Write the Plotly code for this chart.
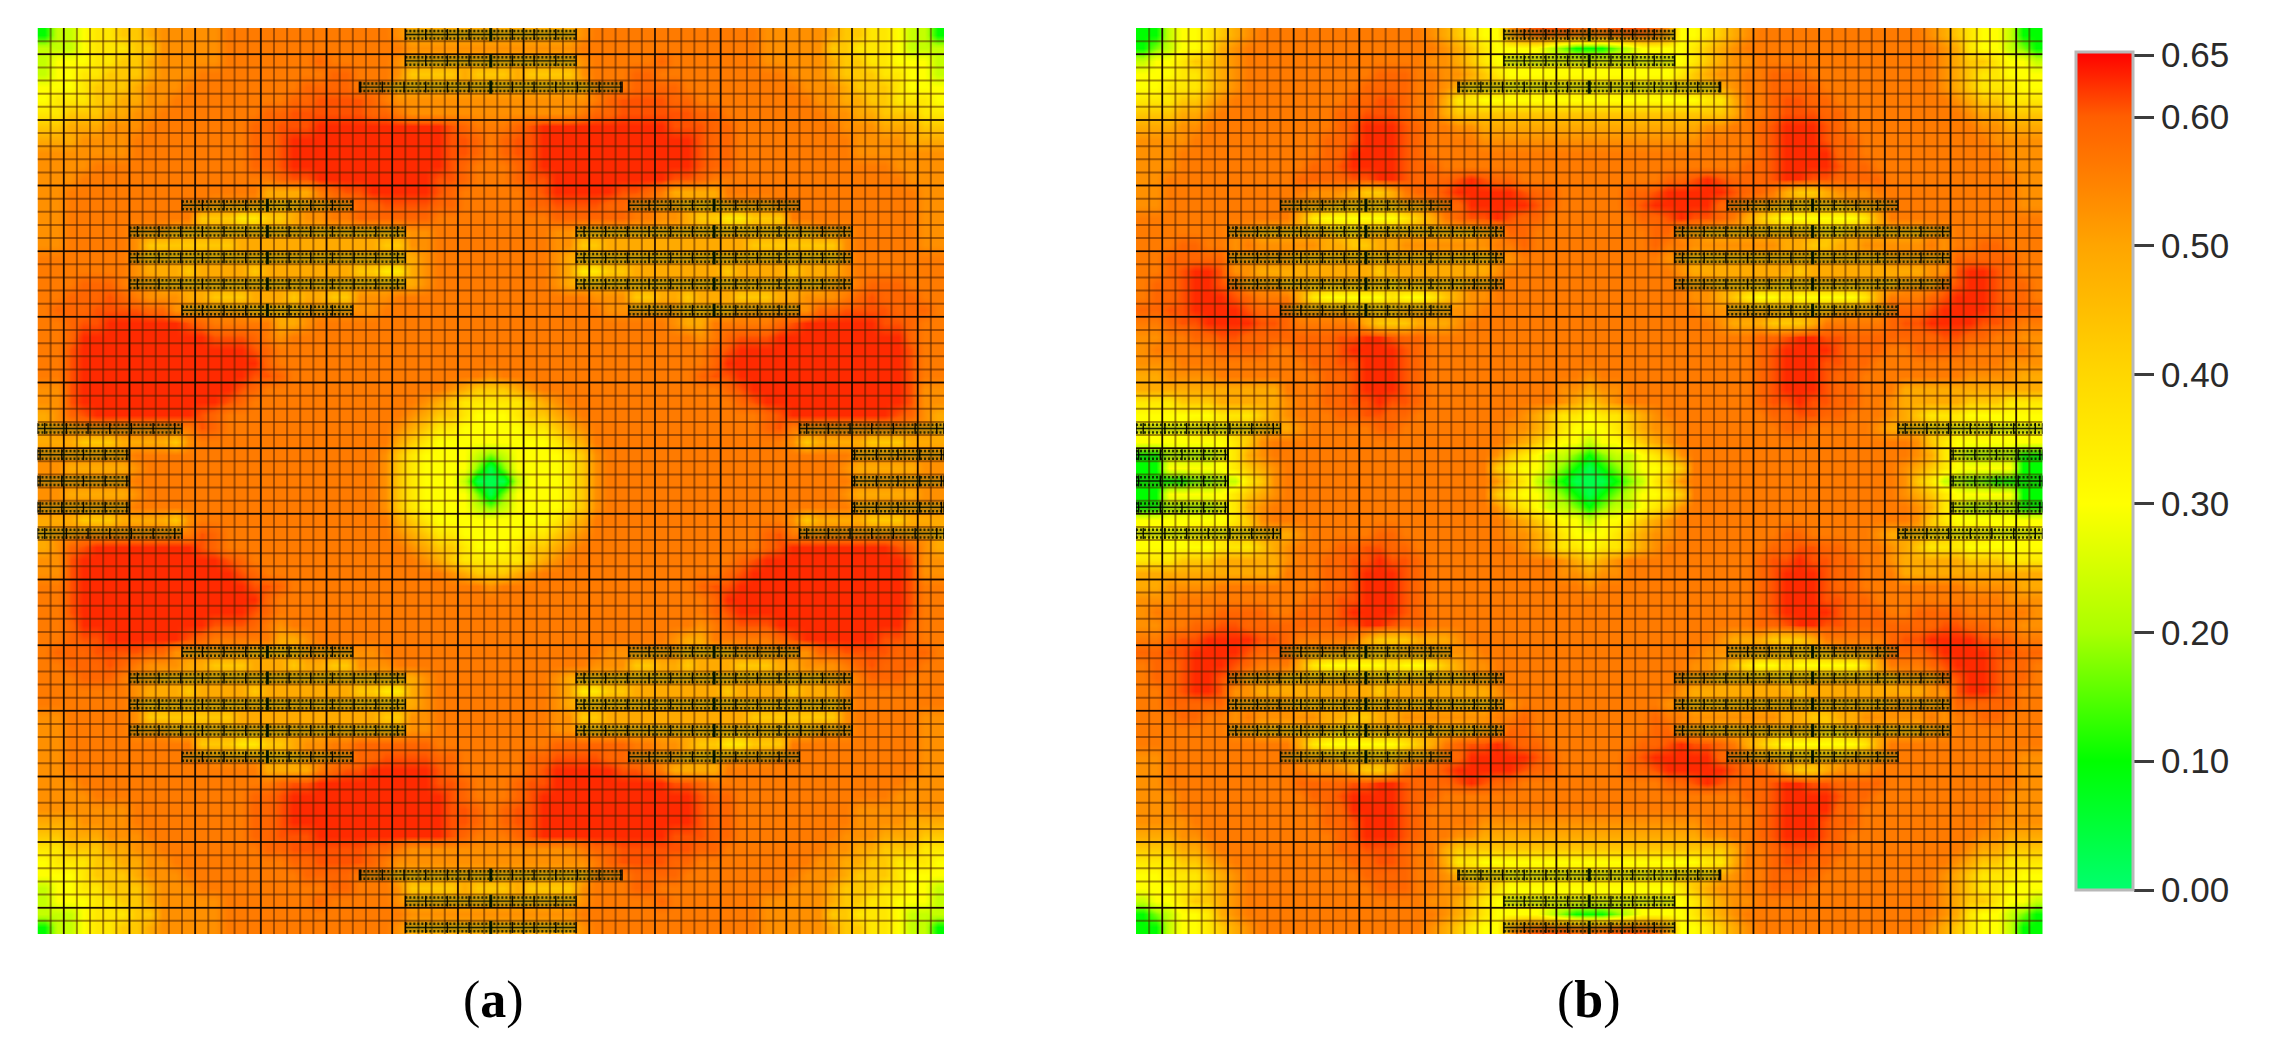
import plotly.graph_objects as go

# value for each colour level seen in a cell
level_values = dict(a=.03, b=.10, c=.17, d=.23, e=.30, f=.36, g=.43, h=.49,
                    i=.53, j=.56, k=.59, l=.607, m=.628)

# upper-left quarter (35 x 35 cells) of panel (a), one text row per grid row
rows_a = [
 "bddeffgghiiiiijjjjjjjjjjjjjihhhhhhh",
 "dddefffggiiiiijjjjjjjjjjjjjjiiiiiii",
 "deeeffgghiiiiijjjjjjjkjjjjjihhhhhhh",
 "deeffggghiiijjjjjjjjjjkkjjjigggghgg",
 "eeefggghiiijjjjjjjjjkkkkjjjhhhhhhhh",
 "efffgghhiijjjjjjjjjkkllllkjiiiiiiii",
 "ffggghhiijjjjjjjjkkllllllkkjiiiiiii",
 "gghhhiiijjjjjjjjkklllmmmmmmmmmmlkjj",
 "hhhiiiijjjjjjjjjkklmmmmmmmmmmmmllkj",
 "iiiiiiijjjjjjjjjkklmmmmmmmmmmmmllkj",
 "iiiijjjjjjjjjjjjkklmmmmmmmmmmmmlkjj",
 "iiijjjjjjjjjjjjjjjkllmmmmmmmmmllkjj",
 "iijjjjjjjjjjjjjjjhhhhjkllmmmmmlkjjj",
 "iijjjjjjjjjjjiiiihhhiijjkkllllkkjjj",
 "iijjjjjjjjjjgggffgghiijjkkkkkkjjjjj",
 "iijjjjjiiihhhhhhhhhhhhhhhhhhiijjjjj",
 "iijjjjjiggggggghhhhhhhhhhhggiijjjjj",
 "jjjjjjjihhhhhhhhhhhhhhhhhhhhhijjjjj",
 "jjjjjjjihhhghhhhghhhhhhhggffhijjjjj",
 "jjjkkkjiihhhhhhhhhhhhhhhhhhhhijjjjj",
 "jjkkklkjiiihhggghhhghhggiiijjjjjjjj",
 "jkkkllllkkiiiiiihhhhiiiiiijjjjjjjjj",
 "jjkllmmmmmmlkjjjjjhhijjjjjjjjjjjjjj",
 "jjkmmmmmmmmmmlllkjijjjjjjjjjjjjjjjj",
 "jjlmmmmmmmmmmmmmlkjjjjjjjjjjjjjjjjj",
 "jjlmmmmmmmmmmmmmmkjjjjjjjjjjjjjjjjj",
 "jjlmmmmmmmmmmmmmllkjjjjjjjjjjjjjjji",
 "iilmmmmmmmmmmmmlk" "jjjjjjjjjjjjjj" "ihgg",
 "iilmmmmmmmmmmmlk" "jjjjjjjjjjjjj" "ihgfff",
 "hiklmmmmmmmmlk" "jjjjjjjjjjjjjj" "ihggfee",
 "hiijjjjjjjjjlk" "jjjjjjjjjjjjj" "ihgffeee",
 "hhhggghhhhgi" "jjjjjjjjjjjjjjj" "hgfeeeee",
 "iiiiiii" "jjjjjjjjjjjjjjjjjjj" "igfeeeedc",
 "iihhhhhi" "jjjjjjjjjjjjjjjjjj" "igfeeeeca",
 "iiiiiii" "jjjjjjjjjjjjjjjjjjj" "igfeeedaa",
]

# upper-left quarter of panel (b)
rows_b = [
 "bbdeefghijjjjjjjjjjjjjihgfeeiklllkk",
 "bcdeefhijjjjjjjjjjjjjjjihgfeeeedcbb",
 "deefgghijjjjjjjjjjjjjjiihgfeeeeeeee",
 "eeeffghijjjjjjjjjjkkkjjiihgfeeeeeee",
 "eefffghijjjjjjjjjkkkkjjihgggfffffff",
 "fffgghijjjjjjjjjkkllkjjhffeeeeeeeee",
 "ggghhijjjjjjjjjkklllkjjhggggggggggg",
 "hhhiijjjjjjjjjjklmmmlkjjiihhhhhhhhh",
 "iiiijjjjjjjjjjkklmmmlkjjjjiiiiiiiii",
 "iiijjjjjjjjjjjkkmmmmlkjjjjjjjjjjjjj",
 "iiijjjjjjjjjjkklmmmmlkkjjjjjjjjjjjj",
 "iijjjjjjjjjjkkkkllmmlkkklmlkkjjjjjj",
 "iijjjjjjjjjjjiiihgghjkklmmmmmlkkjjj",
 "iijjjjjjjjjjiiihhhhhiijkkmmmmmlkjjj",
 "jjjjjjjjjjjjhfeeeeeefghjkllmlkkjjjj",
 "jjjjjjjiihhhhhhgghhhhhhhhhiikkjjjjj",
 "jjjkkjjijiiiiihhgghhiiiiiiijjkjjjjj",
 "jjkkkkkiiiiihhhhhhhhhhhhhhhiijjjjjj",
 "jjklmmliihhhhhhhhhghhhhhhhhijjjjjjj",
 "jkklmmlkiiihhhhhhhhghhhhhiijjjjjjjj",
 "jkklmmmlkjjjhfeeeeefeefghiijjjjjjjj",
 "kkllmmmmlkkkiiiihhhhiiiiiijjjjjjjjj",
 "jjkllmmmmllkjjjjjhggghhhijjjjjjjjjj",
 "iijjkkllkkkkkkkllmmlkkjjjjjjjjjjjjj",
 "ijjjjjkkkkjjkkklmmmmlkjjjjjjjjjjjjj",
 "iiijjjjjjjjjjkkllmmmlkjjjjjjjjjjjjj",
 "hhiiiijjjjjjjjkklmmmlkjjjjjjjjjjjji",
 "hhhhhhhhhhhjjjkklmmmlkjjjjjjjjjjiih",
 "fffggghhhhhijjkkllmllkjjjjjjjjjjihg",
 "eeeeeefffghijjjkkllkkjjjjjjjjihgffe",
 "eeeefffgghhhijjjjjkkjjjjjjjjiihgfee",
 "eeeeeeefgi" "jjjjjjjjjjjjjjjjjj" "ihgfeed",
 "bbddddefhi" "jjjjjjjjjjjjjjjjj" "igfeddcb",
 "bbeeeeefghi" "jjjjjjjjjjjjjjjj" "gfeedcba",
 "bbbbccddfgi" "jjjjjjjjjjjjjjjj" "igfdcbaa",
]

# electrode strips of the upper-left half, in grid cells
strip_rows = [0.5, 2.5, 4.5, 13.5, 15.5, 17.5, 19.5, 21.5, 30.5, 32.5, 34.5]
strip_starts = [28, 28, 24.5, 11, 7, 7, 7, 11, 0, 0, 0]
strip_ends = [41, 41, 44.5, 24, 28, 28, 28, 24, 11, 7, 7]

colorbar_ticks = [0, .1, .2, .3, .4, .5, .6, .648]
colorbar_labels = ["0.00", "0.10", "0.20", "0.30", "0.40", "0.50", "0.60", "0.65"]
panel_labels = ["(<b>a</b>)", "(<b>b</b>)"]

N = 69
W, H = 2283, 1054
ZMAX = .6505
stops = [(0, "rgb(0,255,110)"), (.1, "rgb(0,255,0)"), (.2, "rgb(170,255,0)"),
         (.3, "rgb(255,255,0)"), (.4, "rgb(255,215,0)"), (.5, "rgb(255,165,0)"),
         (.6, "rgb(255,95,0)"), (.6505, "rgb(255,0,0)")]
colorscale = [[v / ZMAX, c] for v, c in stops]


def full_matrix(rows):
    half = []
    for r in rows:
        r = r[:35].ljust(35, r[-1])
        vals = [level_values[ch] for ch in r]
        half.append(vals + vals[-2::-1])
    return half + half[-2::-1]


def grid_xy(lines, horizontal):
    xs, ys = [], []
    for k in lines:
        a, b = ([0, N], [k, k]) if horizontal else ([k, k], [0, N])
        xs += a + [None]
        ys += b + [None]
    return xs, ys


strips = set()
for y, x0, x1 in zip(strip_rows, strip_starts, strip_ends):
    for yy in (y, N - y):
        strips.add((yy, x0, x1))
        strips.add((yy, N - x1, N - x0))
strips = sorted(strips)


def strip_traces(xa, ya):
    out = []
    main_x, main_y, tick_x, tick_y, up_x, up_y, lo_x, lo_y, c_x, c_y = ([] for _ in range(10))
    for y, x0, x1 in strips:
        main_x += [x0, x1, None]; main_y += [y, y, None]
        up_x += [x0, x1, None]; up_y += [y - .28, y - .28, None]
        lo_x += [x0, x1, None]; lo_y += [y + .3, y + .3, None]
        mid = (x0 + x1) / 2
        t = mid
        while t <= x1:
            tick_x += [t, t, None]; tick_y += [y - .42, y + .42, None]
            t += 1.65
        t = mid - 1.65
        while t >= x0:
            tick_x += [t, t, None]; tick_y += [y - .42, y + .42, None]
            t -= 1.65
        tick_x += [x0, x0, None, x1, x1, None]
        tick_y += [y - .42, y + .42, None, y - .42, y + .42, None]
        if x0 > 0 and x1 < N:
            c_x += [mid, mid, None]; c_y += [y - .5, y + .5, None]
    base = dict(mode="lines", xaxis=xa, yaxis=ya, hoverinfo="skip", showlegend=False)
    out.append(go.Scatter(x=main_x, y=main_y, line=dict(color="rgba(60,90,20,.3)", width=10), **base))
    out.append(go.Scatter(x=up_x, y=up_y, line=dict(color="rgba(0,15,0,.8)", width=2.5, dash="2px,2px"), **base))
    out.append(go.Scatter(x=lo_x, y=lo_y, line=dict(color="rgba(0,15,0,.8)", width=2.5, dash="2px,2px"), **base))
    out.append(go.Scatter(x=main_x, y=main_y, line=dict(color="rgba(0,15,0,.9)", width=1.4), **base))
    out.append(go.Scatter(x=tick_x, y=tick_y, line=dict(color="rgba(0,0,0,.9)", width=1.4), **base))
    out.append(go.Scatter(x=c_x, y=c_y, line=dict(color="rgba(0,20,0,.9)", width=3), **base))
    return out


fig = go.Figure()
panels = [(rows_a, "x", "y", 37.5), (rows_b, "x2", "y2", 1136)]
for i, (rows, xa, ya, left) in enumerate(panels):
    cb = None
    if i == 1:
        cb = dict(thickness=57, thicknessmode="pixels", len=838 / H, lenmode="fraction",
                  x=2076 / W, xanchor="left", xpad=0, ypad=0, y=1 - 52 / H, yanchor="top",
                  outlinecolor="#b8b8b8", outlinewidth=3, borderwidth=0,
                  tickmode="array", tickvals=colorbar_ticks, ticktext=colorbar_labels,
                  ticks="outside", ticklen=20, tickwidth=3, tickcolor="#3c3c3c",
                  tickfont=dict(family="Liberation Sans", size=35, color="#2a2a2a"))
    fig.add_trace(go.Heatmap(z=full_matrix(rows), x=[k + .5 for k in range(N)], y=[k + .5 for k in range(N)],
                             zmin=0, zmax=ZMAX, colorscale=colorscale, showscale=i == 1, colorbar=cb,
                             xaxis=xa, yaxis=ya, hoverinfo="skip", zsmooth="best"))
    thin = [k for k in range(1, N)]
    thick = [k for k in range(2, N, 5)]
    base = dict(mode="lines", xaxis=xa, yaxis=ya, hoverinfo="skip", showlegend=False)
    for horizontal in (False, True):
        gx, gy = grid_xy(thin, horizontal)
        fig.add_trace(go.Scatter(x=gx, y=gy, line=dict(color="rgba(70,25,0,.5)", width=2), **base))
    for horizontal in (False, True):
        gx, gy = grid_xy(thick, horizontal)
        fig.add_trace(go.Scatter(x=gx, y=gy, line=dict(color="rgba(15,5,0,.92)", width=1.5), **base))
    for tr in strip_traces(xa, ya):
        fig.add_trace(tr)

    suffix = "" if i == 0 else "2"
    axis = dict(range=[0, N], showgrid=False, zeroline=False, showticklabels=False, ticks="",
                showline=False)
    fig.update_layout({
        "xaxis" + suffix: dict(axis, domain=[left / W, (left + 906.5) / W], anchor="y" + suffix),
        "yaxis" + suffix: dict(axis, domain=[1 - 934 / H, 1 - 28 / H], anchor="x" + suffix,
                               range=[N, 0]),
    })

for label, cx in zip(panel_labels, (493, 1589)):
    fig.add_annotation(text=label, x=cx / W, y=1 - 1000 / H, xref="paper", yref="paper",
                       showarrow=False, xanchor="center", yanchor="middle",
                       font=dict(family="Liberation Serif", size=52, color="black"))

fig.update_layout(width=W, height=H, margin=dict(l=0, r=0, t=0, b=0), autosize=False,
                  paper_bgcolor="white", plot_bgcolor="white", showlegend=False, hovermode=False)
fig.write_html("out.html", config={"displayModeBar": False},
               post_script="document.body.style.margin='0';document.body.style.overflow='hidden';")
